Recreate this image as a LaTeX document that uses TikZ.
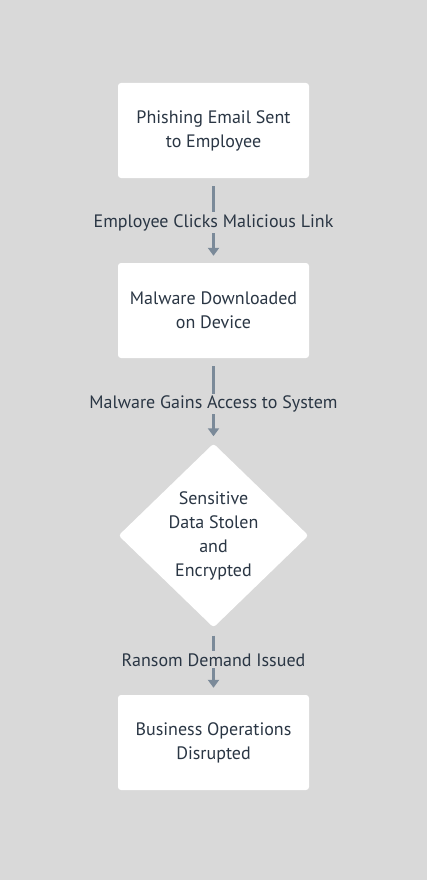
\documentclass[tikz,border=0pt]{standalone}
\usepackage{fontspec}
\setmainfont{PT Sans}
\usetikzlibrary{shapes.geometric,arrows.meta}
\definecolor{bg}{HTML}{D9D9D9}
\definecolor{ink}{HTML}{2A3644}
\definecolor{conn}{HTML}{7B8A99}
\tikzset{
  stepbox/.style={draw=none, fill=white, rounded corners=3pt, minimum width=191pt, minimum height=95pt, align=center, text=ink, font=\fontsize{18}{24}\selectfont},
  decision/.style={diamond, draw=none, fill=white, rounded corners=3pt, minimum width=190pt, minimum height=184pt, inner sep=0pt, align=center, text=ink, font=\fontsize{18}{24}\selectfont},
  flow/.style={draw=conn, line width=3pt, -{Triangle[width=11pt,length=8pt]}, shorten <=8pt, shorten >=7pt},
  lbl/.style={fill=bg, text=ink, font=\fontsize{18}{20}\selectfont, inner xsep=2pt, inner ysep=2pt}
}
\begin{document}
\begin{tikzpicture}[x=1pt,y=1pt]
\fill[bg] (0,0) rectangle (427,-880);
\useasboundingbox (0,0) rectangle (427,-880);
\node[stepbox] (b1) at (213.5,-130.5) {Phishing Email Sent\\to Employee};
\node[stepbox] (b2) at (213.5,-310.5) {Malware Downloaded\\on Device};
\node[decision] (d) at (213.5,-535.5) {Sensitive\\Data Stolen\\and\\Encrypted};
\node[stepbox] (b4) at (213.5,-742.5) {Business Operations\\Disrupted};
\draw[flow] (b1.south) -- node[lbl, yshift=-2pt] {Employee Clicks Malicious Link} (b2.north);
\draw[flow] (b2.south) -- node[lbl, yshift=-3pt] {Malware Gains Access to System} (d.north);
\draw[flow] (d.south) -- node[lbl, yshift=1.5pt] {Ransom Demand Issued} (b4.north);
\end{tikzpicture}
\end{document}
